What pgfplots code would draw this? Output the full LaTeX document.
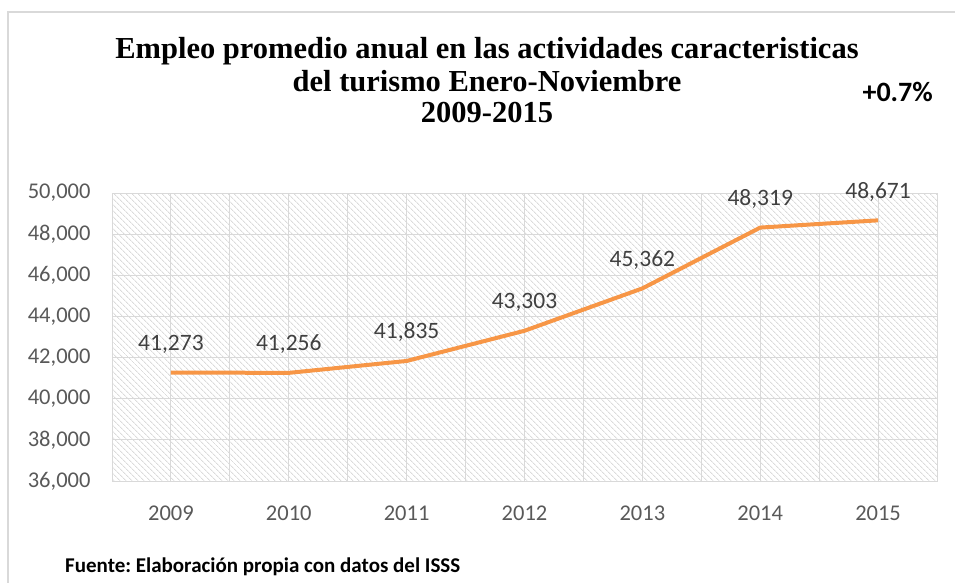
\documentclass[border=0pt]{standalone}
\usepackage{fontspec}
\setmainfont{Carlito}
\newfontfamily\titlefont{Liberation Serif}
\usepackage{pgfplots}
\pgfplotsset{compat=1.18}
\usetikzlibrary{patterns.meta}
\definecolor{lineorange}{HTML}{F79646}
\definecolor{ticktext}{HTML}{595959}
\definecolor{labeltext}{HTML}{404040}
\definecolor{gridgray}{HTML}{D9D9D9}
\frenchspacing
\begin{document}
\begin{tikzpicture}[x=1pt,y=1pt]
\useasboundingbox (0,0) rectangle (955,582);
\draw[gray!30, line width=1.2pt] (8,-5) -- (8,570) -- (960,570);
\begin{axis}[
  at={(112pt,101pt)}, anchor=south west,
  scale only axis, width=825pt, height=288pt,
  xmin=-0.5, xmax=6.5, ymin=36000, ymax=50000,
  xtick={0,...,6},
  xticklabels={2009,2010,2011,2012,2013,2014,2015},
  minor xtick={-0.5,0.5,...,6.5},
  ytick={36000,38000,...,50000},
  scaled y ticks=false,
  /pgf/number format/.cd, 1000 sep={,}, assume math mode=true, /pgfplots/.cd,
  xmajorgrids, xminorgrids, ymajorgrids,
  grid style={draw=gridgray, line width=1pt},
  minor grid style={draw=gridgray, line width=1pt},
  axis line style={draw=gridgray, line width=1pt},
  major tick length=0pt, minor tick length=0pt,
  tick style={draw=none},
  ticklabel style={font=\fontsize{22.5}{26}\selectfont, text=ticktext},
  xticklabel style={yshift=-21pt},
  yticklabel style={xshift=-18pt},
  axis background/.style={pattern={Lines[angle=-45,distance=4pt,line width=0.9pt]}, pattern color=gray!28},
  clip=false,
  nodes near coords,
  every node near coord/.append style={anchor=base, yshift=22pt, font=\fontsize{23.5}{26}\selectfont, text=labeltext},
]
\addplot[lineorange, line width=4pt, line join=round, mark=none] coordinates {
  (0,41273) (1,41256) (2,41835) (3,43303) (4,45362) (5,48319) (6,48671)
};
\end{axis}
\node[anchor=base, align=center, font=\titlefont\bfseries\fontsize{30.5}{34}\selectfont] at (487,523) {Empleo promedio anual en las actividades caracteristicas};
\node[anchor=base, font=\titlefont\bfseries\fontsize{30.5}{34}\selectfont] at (487,490) {del turismo Enero-Noviembre};
\node[anchor=base, font=\titlefont\bfseries\fontsize{30.5}{34}\selectfont] at (487,459) {2009-2015};
\node[anchor=base east, inner sep=0pt, font=\bfseries\fontsize{28}{30}\selectfont] at (933,480) {+0.7\%};
\node[anchor=base west, inner sep=0pt, font=\bfseries\fontsize{21}{24}\selectfont] at (65,10) {Fuente: Elaboración propia con datos del ISSS};
\end{tikzpicture}
\end{document}
